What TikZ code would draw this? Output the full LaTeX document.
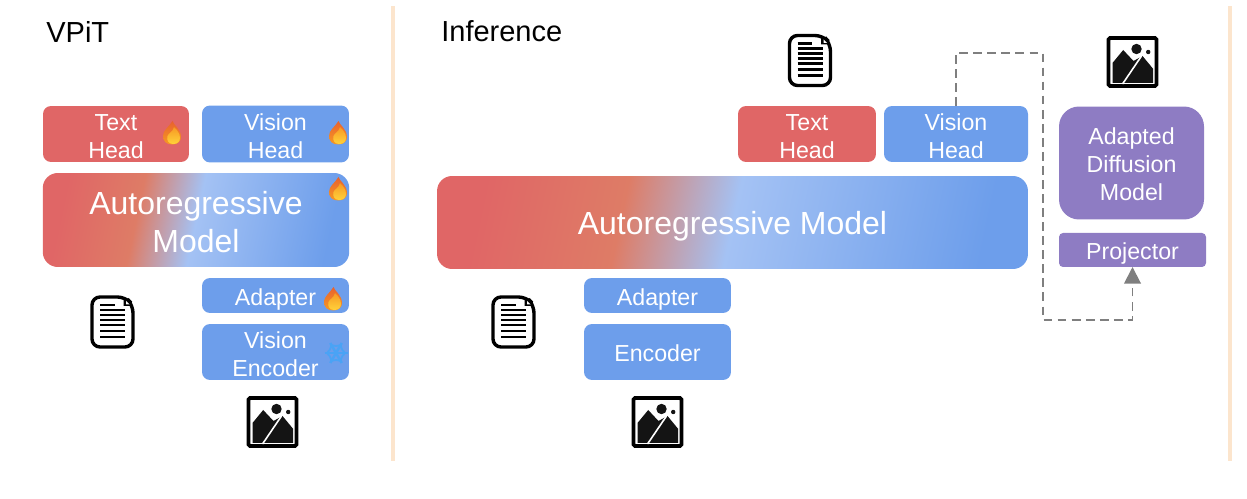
\documentclass[tikz,border=0pt]{standalone}
\usepackage{fontspec}
\setmainfont{Liberation Sans}
\usetikzlibrary{arrows.meta}
\definecolor{cred}{HTML}{E06666}
\definecolor{cblue}{HTML}{6D9EEB}
\definecolor{clight}{HTML}{A4C2F4}
\definecolor{corange}{HTML}{DE7C66}
\definecolor{cpurple}{HTML}{8E7CC3}
\definecolor{cpeach}{HTML}{FCE5CD}
\definecolor{cdash}{HTML}{7F7F7F}
\definecolor{cflame}{HTML}{E8622E}
\definecolor{cfire}{HTML}{F79A24}
\definecolor{ccore}{HTML}{FFD23A}
\definecolor{csnow}{HTML}{4AA3F5}
\pgfdeclarehorizontalshading{arshade}{100bp}{
  color(0bp)=(cred); color(25bp)=(cred); color(39bp)=(corange);
  color(50bp)=(clight); color(75bp)=(cblue); color(100bp)=(cblue)}
\newcommand{\liftline}[1]{\rule{0pt}{#1}}
\tikzset{
  blockbox/.style={rectangle,rounded corners=0.16cm,outer sep=0pt,inner sep=0pt,
    align=center,text=white,text depth=0pt,font=\fontsize{13.2}{16}\selectfont},
  redbox/.style={blockbox,fill=cred},
  bluebox/.style={blockbox,fill=cblue},
  purplebox/.style={blockbox,fill=cpurple},
  arbox/.style={blockbox,rounded corners=0.3cm,shading=arshade,shading angle=-12,
    font=\fontsize{18.2}{21.6}\selectfont},
  titlelab/.style={anchor=west,inner sep=0pt,font=\fontsize{16.5}{20}\selectfont},
  divider/.style={cpeach,line width=0.08cm},
  flowdash/.style={cdash,line width=1.1pt,dash pattern=on 5pt off 3pt,
    -{Triangle[length=9.5pt,width=9.5pt]}},
  docicon/.pic={
    \draw[black,line width=0.068cm,fill=white,rounded corners=0.16cm]
      (-20.5,-25) -- (13,-25) -- (20.5,-17) -- (20.5,25) -- (-20.5,25) -- cycle;
    \fill[black] (11,-25) -- (20,-16) -- (11,-16) -- cycle;
    \fill[white] (13.5,-21) -- (17,-17.5) -- (13.5,-17.5) -- cycle;
    \draw[black,line width=0.055cm] (-12.5,-17) -- (2,-17);
    \foreach \ly in {-12,-7,-2,3,9,15}
      \draw[black,line width=0.055cm] (-12.5,\ly) -- (12.5,\ly);
  },
  imgicon/.pic={
    \draw[black,line width=0.075cm,fill=white,rounded corners=0.03cm]
      (-24,-24) rectangle (24,24);
    \fill[black!92] (-20,21) -- (-20,1) -- (-9.3,-12) -- (1,-1) -- (10,-6)
      -- (20.5,6.7) -- (20.5,21) -- cycle;
    \draw[white,line width=0.032cm] (-10,22) -- (9,-6);
    \fill[black!92] (4,-13) circle (5.2);
    \fill[black!92] (15.7,-10) circle (2.2);
  },
  flame/.pic={
    \shade[top color=cflame,bottom color=cfire]
      (0.5,11.5) .. controls (-6,11.5) and (-9,8) .. (-9,3)
      .. controls (-9,-3) and (-3,-6) .. (0.5,-12)
      .. controls (1.5,-8) and (9,-4) .. (9,4)
      .. controls (9,8) and (6,11.5) .. (0.5,11.5) -- cycle;
    \shade[top color=cfire,bottom color=ccore]
      (1,11) .. controls (-4,11) and (-5.5,7) .. (-4.5,3)
      .. controls (-3.5,0) and (1,-1) .. (2,-6)
      .. controls (5,-3) and (8,0) .. (8,5)
      .. controls (8,9) and (5,11) .. (1,11) -- cycle;
  },
  snowicon/.pic={
    \foreach \ang in {0,60,120}{
      \begin{scope}[rotate=\ang]
        \draw[csnow,line width=0.05cm] (-11.5,0) -- (11.5,0);
        \draw[csnow,line width=0.036cm] (6,-3.5) -- (9,0) -- (6,3.5) (-6,-3.5) -- (-9,0) -- (-6,3.5);
      \end{scope}
    }
  }
}
\begin{document}
\begin{tikzpicture}[x=0.02cm,y=-0.02cm]
  \useasboundingbox (0,0) rectangle (1247,499);
  % dividers
  \draw[divider] (392.5,6) -- (392.5,461);
  \draw[divider] (1229.5,6) -- (1229.5,461);
  \node[titlelab] (vpit) at (46,32) {VPiT};
  \node[titlelab] (infer) at (441,31) {Inference};
  % left panel
  \node[redbox,minimum width=2.92cm,minimum height=1.12cm] (ltext) at (116,134) {\liftline{11.8pt}Text\\Head};
  \node[bluebox,minimum width=2.94cm,minimum height=1.14cm] (lvision) at (275.5,134) {\liftline{11.8pt}Vision\\Head};
  \node[arbox,minimum width=6.13cm,minimum height=1.88cm] (lar) at (196,220) {\liftline{15.5pt}Autoregressive\\Model};
  \node[bluebox,minimum width=2.94cm,minimum height=0.7cm] (ladapt) at (275.5,295.5) {\liftline{11.5pt}Adapter};
  \node[bluebox,minimum width=2.94cm,minimum height=1.12cm] (lenc) at (275.5,352) {\liftline{11.8pt}Vision\\Encoder};
  \pic at (172,133) {flame};
  \pic at (338,133) {flame};
  \pic at (338,189) {flame};
  \pic at (333,299) {flame};
  \pic at (336,353) {snowicon};
  \pic at (112.5,322) {docicon};
  \pic at (272.5,422) {imgicon};
  % right panel
  \node[redbox,minimum width=2.76cm,minimum height=1.12cm] (rtext) at (807,134) {\liftline{11.8pt}Text\\Head};
  \node[bluebox,minimum width=2.88cm,minimum height=1.12cm] (rvision) at (956,134) {\liftline{11.8pt}Vision\\Head};
  \node[arbox,minimum width=11.82cm,minimum height=1.86cm] (rar) at (732.5,222.5) {Autoregressive Model};
  \node[bluebox,minimum width=2.94cm,minimum height=0.7cm] (radapt) at (657.5,295.5) {\liftline{11.5pt}Adapter};
  \node[bluebox,minimum width=2.94cm,minimum height=1.12cm] (renc) at (657.5,352) {\liftline{10.5pt}Encoder};
  \node[purplebox,rounded corners=0.4cm,minimum width=2.9cm,minimum height=2.26cm] (diff) at (1131.5,163) {\liftline{11pt}Adapted\\Diffusion\\Model};
  \node[purplebox,rounded corners=0.08cm,minimum width=2.94cm,minimum height=0.68cm] (proj) at (1132.5,250) {\liftline{10.8pt}Projector};
  \pic at (513.5,322) {docicon};
  \pic at (657.5,422) {imgicon};
  \pic at (810,60.5) {docicon};
  \pic at (1132.5,62) {imgicon};
  % feedback through the projector
  \coordinate (dashtop) at (1043,53);
  \coordinate (dashbot) at (1043,320);
  \draw[flowdash] (rvision.north) |- (dashtop) -- (dashbot) -| (proj.south);
\end{tikzpicture}
\end{document}
